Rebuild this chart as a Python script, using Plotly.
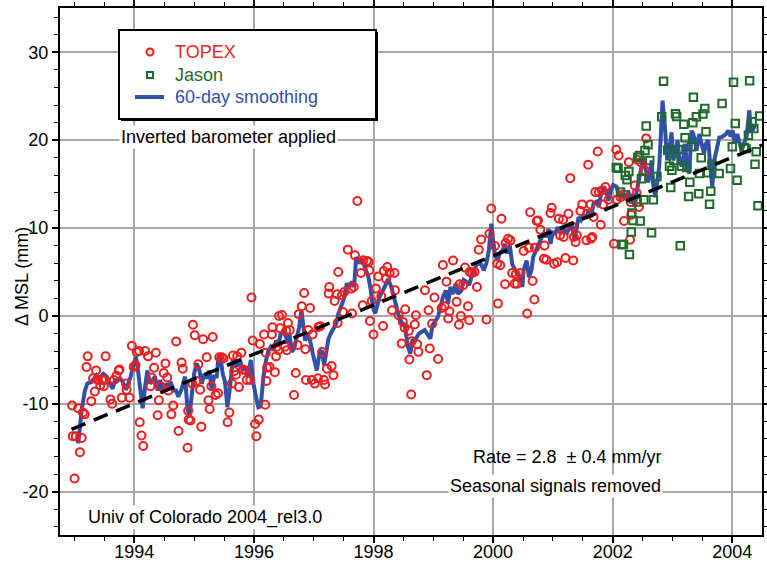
import plotly.graph_objects as go

# ---------------- data ----------------
# TOPEX 10-day global mean sea level anomalies (mm)
topex_year = [
    1992.96, 1992.97, 1993.00, 1993.02, 1993.06, 1993.09, 1993.12, 1993.14, 1993.17, 1993.20,
    1993.22, 1993.28, 1993.31, 1993.34, 1993.36, 1993.39, 1993.43, 1993.46, 1993.49, 1993.50,
    1993.52, 1993.60, 1993.63, 1993.66, 1993.70, 1993.74, 1993.75, 1993.79, 1993.86, 1993.87,
    1993.92, 1993.96, 1993.99, 1994.02, 1994.04, 1994.08, 1994.09, 1994.12, 1994.15, 1994.18,
    1994.23, 1994.27, 1994.29, 1994.33, 1994.36, 1994.39, 1994.41, 1994.44, 1994.49, 1994.52,
    1994.55, 1994.57, 1994.62, 1994.65, 1994.70, 1994.74, 1994.79, 1994.81, 1994.89, 1994.90,
    1994.91, 1994.94, 1994.97, 1994.98, 1995.01, 1995.04, 1995.07, 1995.10, 1995.12, 1995.15,
    1995.21, 1995.24, 1995.26, 1995.29, 1995.31, 1995.36, 1995.40, 1995.42, 1995.46, 1995.49,
    1995.56, 1995.59, 1995.63, 1995.65, 1995.67, 1995.70, 1995.72, 1995.75, 1995.79, 1995.82,
    1995.86, 1995.88, 1995.94, 1995.96, 1995.98, 1996.02, 1996.04, 1996.08, 1996.10, 1996.17,
    1996.19, 1996.20, 1996.21, 1996.22, 1996.26, 1996.30, 1996.31, 1996.35, 1996.37, 1996.38,
    1996.41, 1996.42, 1996.44, 1996.47, 1996.52, 1996.54, 1996.55, 1996.57, 1996.60, 1996.67,
    1996.70, 1996.73, 1996.75, 1996.80, 1996.84, 1996.86, 1996.87, 1996.91, 1996.94, 1996.97,
    1996.98, 1997.02, 1997.07, 1997.08, 1997.11, 1997.14, 1997.17, 1997.19, 1997.22, 1997.25,
    1997.26, 1997.30, 1997.33, 1997.35, 1997.39, 1997.40, 1997.41, 1997.47, 1997.49, 1997.51,
    1997.57, 1997.63, 1997.64, 1997.67, 1997.69, 1997.73, 1997.79, 1997.82, 1997.83, 1997.89,
    1997.92, 1997.93, 1997.94, 1997.97, 1998.00, 1998.04, 1998.08, 1998.13, 1998.16, 1998.17,
    1998.21, 1998.23, 1998.27, 1998.31, 1998.35, 1998.36, 1998.42, 1998.47, 1998.49, 1998.52,
    1998.53, 1998.59, 1998.60, 1998.63, 1998.64, 1998.69, 1998.71, 1998.73, 1998.75, 1998.86,
    1998.89, 1998.92, 1998.94, 1998.98, 1999.02, 1999.08, 1999.14, 1999.16, 1999.19, 1999.22,
    1999.25, 1999.27, 1999.33, 1999.39, 1999.43, 1999.44, 1999.46, 1999.50, 1999.53, 1999.58,
    1999.60, 1999.61, 1999.65, 1999.69, 1999.73, 1999.76, 1999.80, 1999.89, 1999.94, 1999.97,
    2000.03, 2000.07, 2000.08, 2000.12, 2000.14, 2000.20, 2000.21, 2000.25, 2000.29, 2000.32,
    2000.36, 2000.38, 2000.40, 2000.45, 2000.51, 2000.57, 2000.60, 2000.62, 2000.66, 2000.69,
    2000.70, 2000.73, 2000.75, 2000.79, 2000.85, 2000.86, 2000.89, 2000.96, 2000.98, 2001.02,
    2001.07, 2001.10, 2001.12, 2001.17, 2001.18, 2001.21, 2001.26, 2001.29, 2001.32, 2001.34,
    2001.35, 2001.38, 2001.40, 2001.46, 2001.49, 2001.56, 2001.57, 2001.59, 2001.63, 2001.64,
    2001.66, 2001.68, 2001.71, 2001.75, 2001.77, 2001.80, 2001.82, 2001.84, 2001.88, 2001.93,
    2002.02, 2002.06, 2002.07, 2002.10, 2002.13, 2002.18, 2002.19, 2002.27, 2002.29, 2002.30,
    2002.31, 2002.37, 2002.40, 2002.41, 2002.44, 2002.47, 2002.54, 2002.56,
]
topex_mm = [
    -10.2, -13.7, -18.5, -13.7, -10.5, -15.5, -13.9, -11.0, -11.2, -5.8,
    -4.6, -9.7, -7.1, -8.6, -6.2, -7.3, -7.9, -7.3, -8.0, -7.3,
    -4.6, -9.5, -10.0, -7.3, -6.8, -6.2, -6.1, -9.3, -7.7, -8.4,
    -9.3, -3.4, -5.8, -5.6, -4.1, -4.0, -12.1, -13.6, -14.8, -4.0,
    -4.6, -8.0, -7.0, -5.9, -4.2, -11.3, -9.6, -8.0, -6.5, -5.4,
    -7.0, -8.5, -11.2, -10.2, -2.9, -13.1, -5.3, -6.0, -15.0, -10.8,
    -11.8, -11.9, -7.7, -1.0, -2.2, -7.4, -5.5, -8.4, -12.6, -2.65,
    -4.7, -9.6, -10.6, -8.0, -2.4, -9.0, -8.8, -4.7, -4.7, -4.85,
    -12.1, -11.0, -7.7, -4.5, -6.3, -6.7, -4.6, -8.1, -4.2, -6.1,
    -6.2, -7.3, -7.3, 2.1, -2.8, -12.3, -13.7, -11.8, -3.2, -2.1,
    -10.1, -4.2, -7.4, -5.9, -5.8, -2.1, -1.3, -6.4, -4.6, -3.5,
    -3.9, 0.0, -1.4, 0.1, -3.5, -1.7, -3.9, -0.8, -1.6, -9.0,
    -6.5, -3.3, 0.2, 1.1, 2.6, -3.8, -7.3, -1.6, 0.9, -7.3,
    -2.1, -7.7, -7.1, -1.25, -1.17, -4.1, -7.3, -7.8, -6.0, 2.54,
    3.3, -5.7, -6.74, 1.7, 2.46, -0.8, 5.0, 2.35, 0.45, 2.73,
    7.54, 3.1, 0.27, 3.3, 6.89, 13.07, 4.89, 1.21, 6.33, 6.25,
    6.14, 5.19, -0.57, 1.7, -2.12, 3.11, 4.5, 2.23, -1.14, 5.11,
    4.24, 5.57, 4.89, 0.64, 4.89, 2.92, 0.08, -3.14, -0.68, -1.33,
    0.76, -1.7, -4.96, -8.94, -2.88, -0.98, 0.08, -3.22, -4.09, 2.92,
    -6.74, 0.64, -3.7, -0.9, 2.1, -4.9, 0.9, 5.8, 1.1, 3.9,
    -0.3, 0.5, 6.3, 1.6, -1.0, 3.6, 0.0, 3.5, 5.5, 1.1,
    -0.5, 5.0, 4.9, 5.0, 3.3, 7.54, 8.71, -0.4, 9.36, 12.23,
    7.95, 5.95, 1.4, 5.76, 11.06, 3.6, 8.3, 8.79, 8.6, 4.89,
    3.67, 4.73, 3.67, 4.89, 7.39, 0.27, 7.77, 11.8, 3.98, 1.86,
    7.77, 10.8, 10.87, 9.8, 6.5, 8.0, 6.4, 11.7, 12.3, 5.95,
    6.1, 11.06, 9.17, 10.95, 8.98, 6.6, 11.63, 15.68, 10.2, 6.3,
    8.98, 8.4, 9.17, 11.93, 12.69, 8.6, 11.63, 17.2, 12.69, 8.8,
    8.98, 11.25, 14.09, 18.71, 14.09, 10.38, 14.28, 12.69, 14.66, 13.22,
    8.22, 18.9, 13.22, 18.26, 13.52, 13.83, 10.8, 17.5, 8.67, 12.95,
    11.5, 14.85, 13.98, 17.77, 12.4, 17.5, 16.55, 20.2,
]

# Jason-1 10-day global mean sea level anomalies (mm)
jason_year = [
    2002.06, 2002.09, 2002.13, 2002.15, 2002.18, 2002.21, 2002.24, 2002.27, 2002.28, 2002.31,
    2002.32, 2002.34, 2002.41, 2002.42, 2002.45, 2002.46, 2002.48, 2002.52, 2002.54, 2002.56,
    2002.59, 2002.62, 2002.65, 2002.68, 2002.74, 2002.82, 2002.85, 2002.92, 2002.95, 2002.97,
    2002.99, 2003.02, 2003.05, 2003.07, 2003.10, 2003.13, 2003.15, 2003.19, 2003.21, 2003.24,
    2003.27, 2003.29, 2003.32, 2003.34, 2003.35, 2003.40, 2003.44, 2003.45, 2003.48, 2003.51,
    2003.54, 2003.56, 2003.59, 2003.62, 2003.64, 2003.66, 2003.78, 2003.83, 2003.97, 2004.00,
    2004.02, 2004.05, 2004.08, 2004.20, 2004.23, 2004.27, 2004.29, 2004.33, 2004.36, 2004.38,
    2004.40, 2004.43, 2004.46,
]
jason_mm = [
    16.9, 16.8, 14.1, 8.14, 8.14, 15.98, 15.5, 16.44, 7.0, 9.55,
    11.7, 10.87, 12.95, 18.07, 18.26, 10.8, 15.6, 13.22, 18.83, 21.6,
    19.47, 17.69, 9.47, 13.22, 15.87, 22.66, 26.7, 18.86, 17.03, 14.6,
    16.58, 17.7, 23.0, 22.7, 18.94, 7.98, 17.03, 21.8, 20.27, 16.88,
    13.6, 15.2, 19.24, 21.98, 24.87, 22.66, 13.9, 16.2, 18.0, 22.97,
    23.6, 20.95, 16.3, 12.7, 14.2, 17.26, 16.2, 24.18, 16.77, 19.24,
    26.58, 21.9, 15.44, 19.16, 19.05, 20.57, 26.77, 22.09, 21.33, 17.26,
    18.67, 12.55, 22.74,
]

# 60-day smoothed series (mm)
smooth_year = [
    1993.046, 1993.063, 1993.119, 1993.174, 1993.213, 1993.286, 1993.370, 1993.425, 1993.481, 1993.537,
    1993.582, 1993.637, 1993.676, 1993.715, 1993.760, 1993.805, 1993.861, 1993.900, 1993.939, 1993.983,
    1994.028, 1994.061, 1994.095, 1994.139, 1994.179, 1994.218, 1994.262, 1994.307, 1994.346, 1994.391,
    1994.430, 1994.485, 1994.530, 1994.569, 1994.608, 1994.653, 1994.697, 1994.736, 1994.792, 1994.848,
    1994.887, 1994.921, 1994.960, 1994.999, 1995.043, 1995.088, 1995.127, 1995.172, 1995.222, 1995.255,
    1995.294, 1995.333, 1995.378, 1995.406, 1995.434, 1995.478, 1995.517, 1995.556, 1995.601, 1995.646,
    1995.685, 1995.724, 1995.768, 1995.813, 1995.869, 1995.908, 1995.947, 1995.992, 1996.036, 1996.075,
    1996.114, 1996.159, 1996.204, 1996.243, 1996.282, 1996.326, 1996.371, 1996.410, 1996.449, 1996.494,
    1996.538, 1996.561, 1996.594, 1996.633, 1996.672, 1996.717, 1996.756, 1996.795, 1996.829, 1996.856,
    1996.895, 1996.940, 1996.985, 1997.024, 1997.052, 1997.096, 1997.135, 1997.174, 1997.208, 1997.247,
    1997.286, 1997.331, 1997.375, 1997.414, 1997.442, 1997.498, 1997.554, 1997.598, 1997.637, 1997.676,
    1997.710, 1997.749, 1997.805, 1997.861, 1997.916, 1997.955, 1997.989, 1998.028, 1998.103, 1998.187,
    1998.243, 1998.298, 1998.354, 1998.410, 1998.466, 1998.522, 1998.577, 1998.616, 1998.650, 1998.706,
    1998.762, 1998.801, 1998.856, 1998.912, 1998.951, 1998.985, 1999.024, 1999.079, 1999.119, 1999.163,
    1999.208, 1999.247, 1999.286, 1999.331, 1999.375, 1999.414, 1999.470, 1999.509, 1999.554, 1999.598,
    1999.637, 1999.676, 1999.721, 1999.766, 1999.805, 1999.844, 1999.888, 1999.930, 1999.970, 2000.000,
    2000.030, 2000.070, 2000.110, 2000.160, 2000.200, 2000.230, 2000.280, 2000.320, 2000.360, 2000.400,
    2000.450, 2000.490, 2000.510, 2000.560, 2000.600, 2000.640, 2000.670, 2000.710, 2000.750, 2000.790,
    2000.850, 2000.890, 2000.930, 2000.960, 2001.000, 2001.040, 2001.080, 2001.120, 2001.180, 2001.240,
    2001.280, 2001.320, 2001.360, 2001.390, 2001.430, 2001.470, 2001.510, 2001.560, 2001.600, 2001.640,
    2001.680, 2001.730, 2001.770, 2001.800, 2001.850, 2001.890, 2001.930, 2001.970, 2002.008, 2002.064,
    2002.120, 2002.176, 2002.232, 2002.259, 2002.299, 2002.332, 2002.371, 2002.399, 2002.444, 2002.483,
    2002.511, 2002.555, 2002.594, 2002.622, 2002.650, 2002.678, 2002.711, 2002.734, 2002.778, 2002.801,
    2002.834, 2002.873, 2002.912, 2002.946, 2002.985, 2003.013, 2003.052, 2003.085, 2003.113, 2003.152,
    2003.180, 2003.208, 2003.247, 2003.280, 2003.319, 2003.347, 2003.375, 2003.403, 2003.448, 2003.487,
    2003.526, 2003.559, 2003.598, 2003.637, 2003.665, 2003.699, 2003.738, 2003.782, 2003.838, 2003.894,
    2003.933, 2003.972, 2004.006, 2004.045, 2004.084, 2004.128, 2004.156, 2004.195, 2004.240, 2004.285,
    2004.307, 2004.340, 2004.379,
]
smooth_mm = [
    -13.6, -14.5, -10.7, -8.5, -7.7, -7.5, -6.75, -7.1, -6.6, -6.9,
    -7.5, -8.3, -7.3, -7.4, -7.1, -7.5, -8.4, -7.7, -6.9, -5.6,
    -4.7, -6.2, -8.5, -10.5, -8.1, -6.2, -7.7, -7.3, -6.9, -8.5,
    -7.3, -8.8, -7.7, -8.1, -7.5, -8.5, -8.5, -9.2, -8.3, -6.9,
    -10.4, -11.5, -8.5, -6.6, -5.4, -6.2, -7.7, -6.6, -7.1, -6.2,
    -8.5, -6.9, -6.9, -4.7, -4.3, -6.6, -7.5, -10.4, -8.1, -5.0,
    -5.6, -5.6, -5.0, -6.2, -5.8, -6.9, -5.0, -7.7, -9.2, -10.4,
    -10.3, -6.9, -5.0, -3.9, -3.5, -3.9, -2.8, -3.3, -2.0, -1.8,
    -2.4, -3.1, -2.0, -4.1, -3.7, -2.4, -1.3, 0.6, -0.9, -2.8,
    -2.0, -2.8, -4.3, -5.4, -6.2, -4.3, -3.9, -5.6, -3.9, -2.6,
    -2.0, -1.4, -0.9, 0.3, 0.8, 1.8, 3.7, 3.3, 3.9, 3.3,
    6.7, 6.0, 6.5, 5.4, 4.4, 2.9, 1.0, 0.3, 2.2, 3.3,
    4.2, 3.3, 1.8, 0.3, -0.7, -1.1, -3.5, -4.3, -2.8, -2.6,
    -2.0, -1.8, -1.6, -2.2, -2.6, -1.1, -0.7, -0.1, 1.0, 2.2,
    2.9, 1.4, 3.3, 2.5, 3.7, 2.5, 2.9, 4.1, 3.9, 3.5,
    4.4, 5.2, 5.8, 6.1, 5.8, 5.2, 6.0, 7.5, 10.5, 8.6,
    7.1, 6.3, 7.1, 7.5, 8.2, 7.1, 8.0, 5.9, 5.2, 4.8,
    4.4, 3.3, 5.2, 6.3, 4.4, 5.2, 6.7, 7.5, 8.0, 8.6,
    9.4, 9.0, 9.9, 8.2, 9.5, 9.4, 10.1, 9.5, 9.9, 9.5,
    10.1, 10.5, 8.6, 10.1, 11.25, 10.9, 11.4, 11.25, 12.0, 11.25,
    12.8, 13.0, 12.4, 13.7, 14.7, 14.3, 13.1, 14.3, 14.9, 14.7,
    13.5, 13.9, 13.2, 14.3, 12.8, 13.9, 12.4, 14.1, 15.4, 17.0,
    18.1, 16.6, 15.2, 16.2, 17.7, 14.9, 13.5, 14.7, 17.0, 20.0,
    24.5, 21.5, 17.7, 18.8, 20.9, 17.7, 18.5, 20.0, 18.1, 17.0,
    17.7, 19.6, 17.0, 16.2, 21.1, 20.7, 20.0, 18.8, 20.7, 19.6,
    18.5, 19.6, 20.0, 16.6, 14.7, 17.7, 19.2, 20.3, 20.4, 20.7,
    21.1, 20.4, 21.1, 19.6, 20.7, 19.2, 18.8, 19.6, 20.4, 23.4,
    21.5, 21.1, 21.7,
]

# Linear trend quoted on the chart
trend_rate = 2.8          # mm/yr
trend_err = 0.4           # mm/yr
trend_years = [1992.95, 2004.50]
trend_start_mm = -12.9
trend_mm = [trend_start_mm + trend_rate * (y - trend_years[0]) for y in trend_years]

x_ticks = [1994, 1996, 1998, 2000, 2002, 2004]
y_ticks = [-20, -10, 0, 10, 20, 30]

# legend entries: label, colour
legend_items = [("TOPEX", "#f01e1e"), ("Jason", "#1f6b2c"), ("60-day smoothing", "#3150a8")]

# ---------------- styling ----------------
FONT = "Liberation Sans, Arial, Helvetica, sans-serif"
RED = "#f01e1e"
GREEN = "#1f6b2c"
BLUE = "#3150a8"

W, H = 767, 562
ML, MR, MT, MB = 60, 5, 8, 27
PW, PH = W - ML - MR, H - MT - MB


def px(xp):
    """pixel column -> paper x"""
    return (xp - ML) / PW


def py(yp):
    """pixel row -> paper y"""
    return (H - MB - yp) / PH


fig = go.Figure()

fig.add_trace(go.Scatter(
    x=smooth_year, y=smooth_mm, mode="lines",
    line=dict(color=BLUE, width=4), name="60-day smoothing",
))
fig.add_trace(go.Scatter(
    x=topex_year, y=topex_mm, mode="markers",
    marker=dict(symbol="circle-open", size=8, color=RED, line=dict(width=2, color=RED)),
    name="TOPEX",
))
fig.add_trace(go.Scatter(
    x=jason_year, y=jason_mm, mode="markers",
    marker=dict(symbol="square-open", size=7.5, color=GREEN, line=dict(width=2, color=GREEN)),
    name="Jason",
))
fig.add_trace(go.Scatter(
    x=trend_years, y=trend_mm, mode="lines",
    line=dict(color="black", width=3.5, dash="15px,9px"), name="trend",
))

# ---- legend panel (framed box with drop shadow) ----
box = dict(x0=px(119), x1=px(376), y0=py(119), y1=py(30))
fig.add_shape(type="rect", xref="paper", yref="paper",
              x0=box["x0"] + 2 / PW, x1=box["x1"] + 2 / PW,
              y0=box["y0"] - 2 / PH, y1=box["y1"] - 2 / PH,
              fillcolor="black", line=dict(width=0), layer="above")
fig.add_shape(type="rect", xref="paper", yref="paper", **box,
              fillcolor="white", line=dict(color="black", width=2), layer="above")

row_y = [52, 75, 97]
sym_x = 150
# circle sample
fig.add_shape(type="circle", xref="paper", yref="paper",
              x0=px(sym_x - 3.5), x1=px(sym_x + 3.5), y0=py(row_y[0] + 3.5), y1=py(row_y[0] - 3.5),
              line=dict(color=RED, width=2), fillcolor="rgba(0,0,0,0)", layer="above")
# square sample
fig.add_shape(type="rect", xref="paper", yref="paper",
              x0=px(sym_x - 3), x1=px(sym_x + 3), y0=py(row_y[1] + 3), y1=py(row_y[1] - 3),
              line=dict(color=GREEN, width=2), fillcolor="rgba(0,0,0,0)", layer="above")
# line sample
fig.add_shape(type="line", xref="paper", yref="paper",
              x0=px(135), x1=px(164), y0=py(row_y[2]), y1=py(row_y[2]),
              line=dict(color=BLUE, width=4), layer="above")
for (label, colour), yr in zip(legend_items, row_y):
    fig.add_annotation(text=label, xref="paper", yref="paper", x=px(173), y=py(yr),
                       xanchor="left", yanchor="middle", showarrow=False,
                       font=dict(family=FONT, size=18, color=colour))

ann_font = dict(family=FONT, size=18, color="black")
notes = [
    ("Inverted barometer applied", 228, 137, True),
    (f"Rate = {trend_rate}\u00a0 ± {trend_err} mm/yr", 567, 457, False),
    ("Seasonal signals removed", 555, 486, True),
    ("Univ of Colorado 2004_rel3.0", 205, 517, True),
]
for text, xp, yp, boxed in notes:
    fig.add_annotation(text=text, xref="paper", yref="paper", x=px(xp), y=py(yp),
                       xanchor="center", yanchor="middle", showarrow=False,
                       font=ann_font, bgcolor="white" if boxed else None, borderpad=1)

fig.add_annotation(text="Δ MSL (mm)", xref="paper", yref="paper",
                   x=px(22), y=py(277), textangle=-90, showarrow=False,
                   xanchor="center", yanchor="middle", font=ann_font)

axis_common = dict(
    showline=True, linecolor="black", linewidth=2, mirror="ticks",
    ticks="outside", ticklen=6, tickwidth=1.5, tickcolor="black",
    showgrid=True, gridcolor="#a8a8a8", gridwidth=1.5, zeroline=False,
    automargin=False,
    tickfont=dict(family=FONT, size=18, color="black"),
)

fig.update_layout(
    width=W, height=H,
    margin=dict(l=ML, r=MR, t=MT, b=MB, pad=0),
    paper_bgcolor="white", plot_bgcolor="white",
    font=dict(family=FONT, size=18, color="black"),
    showlegend=False,
    xaxis=dict(range=[1992.757, 2004.497], tickmode="array", tickvals=x_ticks,
               ticktext=[str(v) for v in x_ticks], ticklabelstandoff=-7,
               minor=dict(dtick=0.5, tick0=1993, ticks="outside", ticklen=4,
                          tickcolor="black", tickwidth=1, showgrid=False),
               **axis_common),
    yaxis=dict(range=[-24.93, 35.04], tickmode="array", tickvals=y_ticks,
               ticktext=[str(v) for v in y_ticks],
               minor=dict(dtick=2, tick0=0, ticks="outside", ticklen=4,
                          tickcolor="black", tickwidth=1, showgrid=False),
               **axis_common),
)

fig.write_html("out.html")
